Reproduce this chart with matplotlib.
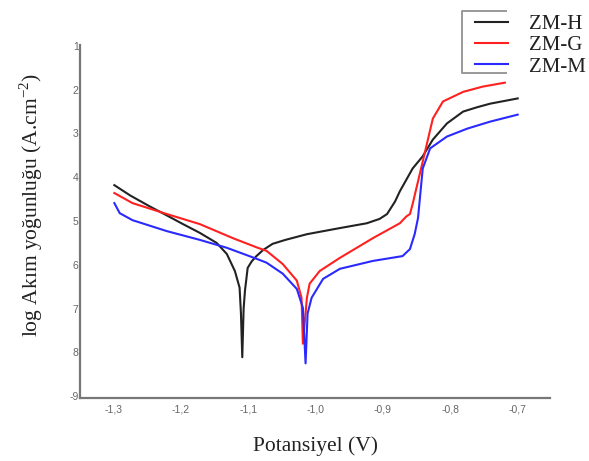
import matplotlib
matplotlib.use("Agg")
import matplotlib.pyplot as plt
from matplotlib.lines import Line2D

plt.rcParams["mathtext.fontset"] = "custom"
plt.rcParams["mathtext.rm"] = "Liberation Serif"

# ---- data ----
zmh_v = [-1.299, -1.275, -1.247, -1.220, -1.197, -1.172, -1.147, -1.132, -1.120, -1.113, -1.111, -1.109,
         -1.107, -1.105, -1.101, -1.095, -1.088, -1.078, -1.064, -1.045, -1.013, -0.964, -0.924, -0.905,
         -0.894, -0.882, -0.875, -0.856, -0.841, -0.826, -0.805, -0.781, -0.760, -0.741, -0.700]
zmh_i = [4.18, 4.42, 4.66, 4.88, 5.07, 5.27, 5.50, 5.75, 6.14, 6.52, 7.10, 8.11,
         7.00, 6.59, 6.07, 5.92, 5.80, 5.66, 5.52, 5.43, 5.30, 5.16, 5.05, 4.95,
         4.84, 4.55, 4.32, 3.80, 3.52, 3.14, 2.77, 2.50, 2.40, 2.32, 2.20]

zmg_v = [-1.299, -1.272, -1.221, -1.172, -1.123, -1.086, -1.073, -1.049, -1.028, -1.021,
         -1.019, -1.013, -1.009, -0.994, -0.964, -0.915, -0.875, -0.865, -0.860, -0.856,
         -0.841, -0.826, -0.811, -0.781, -0.752, -0.719]
zmg_i = [4.36, 4.59, 4.84, 5.07, 5.39, 5.61, 5.68, 5.98, 6.36, 6.75,
         7.80, 6.75, 6.43, 6.14, 5.84, 5.39, 5.05, 4.89, 4.84, 4.61,
         3.64, 2.66, 2.27, 2.05, 1.93, 1.84]

zmm_v = [-1.299, -1.291, -1.272, -1.221, -1.172, -1.132, -1.088, -1.073, -1.049, -1.028,
         -1.019, -1.015, -1.012, -1.006, -0.989, -0.964, -0.915, -0.871, -0.860, -0.853,
         -0.848, -0.841, -0.830, -0.805, -0.775, -0.741, -0.700]
zmm_i = [4.59, 4.82, 4.98, 5.23, 5.43, 5.61, 5.86, 5.95, 6.20, 6.55,
         6.98, 8.25, 7.11, 6.75, 6.32, 6.09, 5.91, 5.80, 5.64, 5.30,
         4.93, 3.80, 3.34, 3.07, 2.89, 2.73, 2.57]

series_names = ["ZM-H", "ZM-G", "ZM-M"]
series_colors = ["#222222", "#ff2020", "#2a2aff"]

x_ticks = [-1.3, -1.2, -1.1, -1.0, -0.9, -0.8, -0.7]
x_ticklabels = ["-1,3", "-1,2", "-1,1", "-1,0", "-0,9", "-0,8", "-0,7"]
y_ticks = [1, 2, 3, 4, 5, 6, 7, 8, 9]
y_ticklabels = ["1", "2", "3", "4", "5", "6", "7", "8", "-9"]

# ---- figure ----
W, H = 589, 461
fig = plt.figure(figsize=(W / 100, H / 100), dpi=100)
ax = fig.add_axes([80 / W, 1 - 398 / H, 470 / W, 353 / H])

for v, i, name, c in zip([zmh_v, zmg_v, zmm_v], [zmh_i, zmg_i, zmm_i], series_names, series_colors):
    ax.plot(v, i, color=c, lw=1.5, label=name, solid_joinstyle="round")

ax.set_xlim(-1.35, -0.652)
ax.set_ylim(9.04, 0.98)

ax.set_xticks(x_ticks)
ax.set_xticklabels(x_ticklabels)
ax.set_yticks(y_ticks)
ax.set_yticklabels(y_ticklabels)
ax.tick_params(axis="both", length=0, labelsize=7.5, labelcolor="#666666")
ax.tick_params(axis="x", pad=5)
ax.tick_params(axis="y", pad=1)
for lab in ax.get_xticklabels() + ax.get_yticklabels():
    lab.set_family("Liberation Sans")

for s in ["top", "right"]:
    ax.spines[s].set_visible(False)
for s in ["left", "bottom"]:
    ax.spines[s].set_color("#777777")
    ax.spines[s].set_linewidth(1.6)

serif = "Liberation Serif"
fig.text(315 / W, 1 - 446 / H, "Potansiyel (V)", ha="center", va="center",
         family=serif, fontsize=15.5, color="#222222")
fig.text(31 / W, 1 - 205 / H, "log Akım yoğunluğu (A.cm$^{\\mathregular{-2}}$)", ha="center", va="center",
         rotation=90, family=serif, fontsize=15.5, color="#222222")

# legend
leg = ax.legend(loc="upper left", bbox_to_anchor=(460 / W, 1 - 0 / H),
                bbox_transform=fig.transFigure, frameon=False,
                prop={"family": serif, "size": 15}, handlelength=1.6,
                handletextpad=1.0, labelspacing=0.08, borderpad=0.2)
for t in leg.get_texts():
    t.set_color("#222222")

# bracket frame of the legend
bc = "#999999"
fx = lambda x: x / W
fy = lambda y: 1 - y / H
fig.add_artist(Line2D([fx(506), fx(462), fx(462), fx(506)], [fy(11), fy(11), fy(73), fy(73)],
                      transform=fig.transFigure, color=bc, lw=1.4))

fig.savefig("out.png", dpi=100)
